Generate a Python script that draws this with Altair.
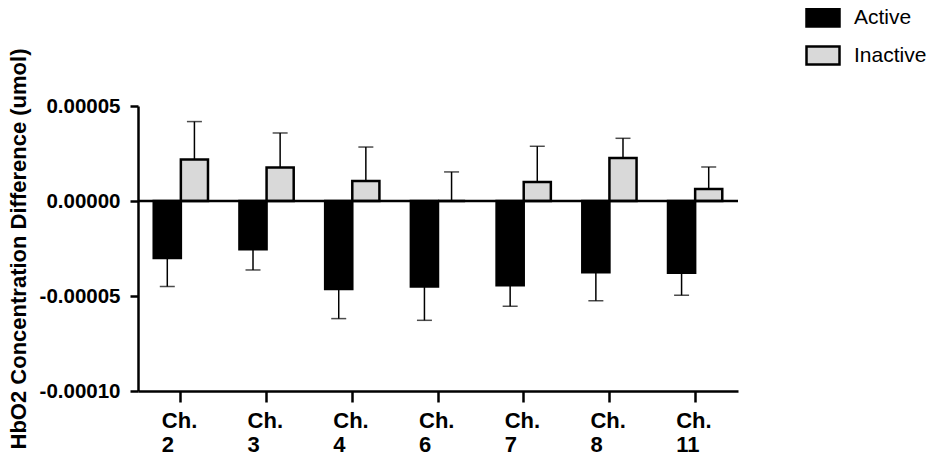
import altair as alt
import pandas as pd

channels = ["Ch. 2", "Ch. 3", "Ch. 4", "Ch. 6", "Ch. 7", "Ch. 8", "Ch. 11"]
groups = ["Active", "Inactive"]
active_mean = [-3.0e-5, -2.54e-5, -4.63e-5, -4.5e-5, -4.44e-5, -3.75e-5, -3.77e-5]
active_err = [1.5e-5, 1.09e-5, 1.56e-5, 1.78e-5, 1.10e-5, 1.5e-5, 1.19e-5]
inactive_mean = [2.18e-5, 1.76e-5, 1.05e-5, 0.0, 1.0e-5, 2.26e-5, 0.63e-5]
inactive_err = [2.0e-5, 1.82e-5, 1.79e-5, 1.53e-5, 1.88e-5, 1.04e-5, 1.16e-5]
y_ticks = [-0.0001, -0.00005, 0.0, 0.00005]

rows = []
for i, ch in enumerate(channels):
    rows.append({"channel": ch, "group": "Active", "mean": active_mean[i],
                 "end": active_mean[i] - active_err[i]})
    rows.append({"channel": ch, "group": "Inactive", "mean": inactive_mean[i],
                 "end": inactive_mean[i] + inactive_err[i]})
df = pd.DataFrame(rows)

FONT = "Liberation Sans"
YTITLE = "HbO2 Concentration Difference (umol)"

yscale = alt.Scale(domain=[-0.0001, 0.00005], nice=False, zero=False)

base = alt.Chart(df).encode(
    x=alt.X("channel:N", sort=channels,
            scale=alt.Scale(paddingInner=0.367, paddingOuter=0.1835),
            axis=alt.Axis(title=None, labelAngle=0, tickSize=11, labelPadding=8,
                          labelFontSize=22, labelFontWeight="bold", labelFont=FONT,
                          labelLineHeight=24, labelAlign="left", labelOffset=-19,
                          labelBaseline="top", labelOverlap=False,
                          labelExpr="split(datum.label, ' ')",
                          domainWidth=2.5, tickWidth=2.5,
                          domainColor="black", tickColor="black", labelColor="black")),
    xOffset=alt.XOffset("group:N", sort=groups,
                        scale=alt.Scale(paddingInner=0, paddingOuter=0)),
)

yaxis = alt.Axis(values=y_ticks, title=YTITLE, tickSize=8, labelPadding=10,
                 labelFontSize=20.5, labelFontWeight="bold", labelFont=FONT,
                 labelExpr="replace(format(datum.value, '.5f'), '\u2212', '-')",
                 titleFontSize=22, titleFontWeight="bold", titleFont=FONT,
                 titlePadding=9, titleColor="black",
                 domainWidth=2.5, tickWidth=2.5, grid=False,
                 domainColor="black", tickColor="black", labelColor="black")

bars = base.mark_bar(stroke="black", strokeWidth=2.5).encode(
    y=alt.Y("mean:Q", scale=yscale, axis=yaxis, title=YTITLE),
    color=alt.Color("group:N", sort=groups,
                    scale=alt.Scale(domain=groups, range=["#000000", "#d9d9d9"]),
                    legend=alt.Legend(title=None, orient="none", legendX=667, legendY=-106.5,
                                      symbolType="M-1,-0.545L1,-0.545L1,0.545L-1,0.545Z",
                                      symbolSize=1089, symbolStrokeColor="black",
                                      symbolStrokeWidth=2.5, labelFontSize=21,
                                      labelFont=FONT, labelColor="black",
                                      labelOffset=13, rowPadding=6, padding=0,
                                      labelLimit=300)),
)

rules = base.mark_rule(color="black", strokeWidth=1.5).encode(
    y=alt.Y("mean:Q", scale=yscale, title=YTITLE),
    y2="end:Q",
)

caps = base.mark_tick(color="black", thickness=1.5, size=15).encode(
    y=alt.Y("end:Q", scale=yscale, title=YTITLE),
)

zero = alt.Chart(pd.DataFrame({"z": [0.0]})).mark_rule(color="black", strokeWidth=2.5).encode(
    y=alt.Y("z:Q", scale=yscale, title=YTITLE),
)

chart = alt.layer(bars, rules, caps, zero).properties(
    width=600, height=285,
    padding={"left": 130, "top": 98, "right": 189, "bottom": 64},
    autosize="none",
).configure_view(stroke=None).configure_axis(grid=False)

chart.save("out.html", embed_options={"renderer": "svg", "actions": False})
